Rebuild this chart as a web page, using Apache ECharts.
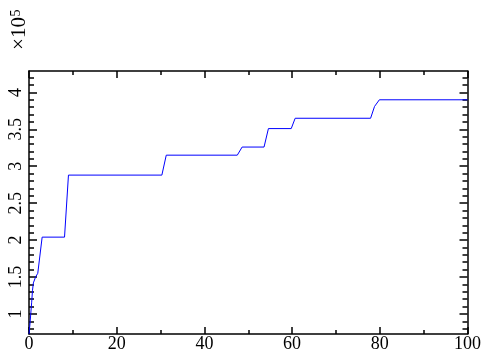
<!DOCTYPE html>
<html>
<head>
<meta charset="utf-8">
<script src="https://cdn.jsdelivr.net/npm/echarts@6/dist/echarts.min.js"></script>
<style>html,body{margin:0;padding:0;background:#fff;}#c{width:484px;height:353px;}</style>
</head>
<body>
<div id="c"></div>
<script>
// Data
var xValues = [0, 0.2, 0.4, 0.6, 0.8, 1.0, 1.5, 2.0, 3.0, 8.1, 9.0, 30.3, 31.3, 47.5, 48.6, 53.6, 54.6, 59.8, 60.7, 77.9, 78.8, 79.9, 100];
var yValues = [73000, 85000, 100000, 115000, 132000, 142000, 150000, 155000, 204000, 204000, 288000, 288000, 315000, 315000, 326000, 326000, 351000, 351000, 365000, 365000, 381000, 390000, 390000];
var xTickLabels = [0, 20, 40, 60, 80, 100];
var yMajorTicks = [100000, 150000, 200000, 250000, 300000, 350000, 400000];
var yMinorTicks = [];
for (var v = 80000; v <= 420000; v += 10000) { if (v % 50000 !== 0) yMinorTicks.push(v); }
var yMin = 72800, yMax = 429000;

var font = "'Liberation Serif', 'Times New Roman', serif";
var data = xValues.map(function (x, i) { return [x, yValues[i]]; });

function yAx(pos, ticks, len, labels, line) {
  return {
    type: 'value', position: pos, min: yMin, max: yMax,
    splitLine: { show: false },
    axisLine: { show: line, lineStyle: { color: '#000', width: 1.5 } },
    axisTick: { show: true, inside: true, length: len, customValues: ticks, lineStyle: { color: '#000', width: 1.5 } },
    axisLabel: labels ? {
      show: true, customValues: ticks, rotate: 90, margin: 4, color: '#000', fontSize: 18, fontFamily: font,
      formatter: function (v) { return String(Math.round(v / 1e5 * 10) / 10); }
    } : { show: false }
  };
}
function xAx(pos, labels) {
  return {
    type: 'value', position: pos, min: 0, max: 100, interval: 20,
    splitLine: { show: false },
    axisLine: { show: true, onZero: false, lineStyle: { color: '#000', width: 1.5 } },
    axisTick: { show: true, inside: true, length: 7, lineStyle: { color: '#000', width: 1.5 } },
    minorTick: { show: true, splitNumber: 2, length: 4, lineStyle: { color: '#000', width: 1.5 } },
    axisLabel: labels ? { show: true, margin: 1, color: '#000', fontSize: 18, fontFamily: font,
      customValues: xTickLabels } : { show: false }
  };
}

var chart = echarts.init(document.getElementById('c'), null, { renderer: 'canvas' });
chart.setOption({
  animation: false,
  backgroundColor: '#fff',
  grid: { left: 29, right: 16, top: 71, bottom: 16, containLabel: false },
  xAxis: [xAx('bottom', true), xAx('top', false)],
  yAxis: [
    yAx('left', yMajorTicks, 8, true, true),
    yAx('left', yMinorTicks, 5, false, false),
    yAx('right', yMajorTicks, 8, false, true),
    yAx('right', yMinorTicks, 5, false, false)
  ],
  series: [{
    type: 'line', data: data, xAxisIndex: 0, yAxisIndex: 0,
    showSymbol: false, symbol: 'none',
    lineStyle: { color: '#0000ff', width: 1 }
  }],
  graphic: [{
    type: 'text', x: 19.5, y: 33.5, rotation: Math.PI / 2,
    style: { text: '×10', fill: '#000', fontSize: 21, fontFamily: font, align: 'center', verticalAlign: 'middle' }
  }, {
    type: 'text', x: 16.5, y: 13, rotation: Math.PI / 2,
    style: { text: '5', fill: '#000', fontSize: 14, fontFamily: font, align: 'center', verticalAlign: 'middle' }
  }]
});
</script>
</body>
</html>
